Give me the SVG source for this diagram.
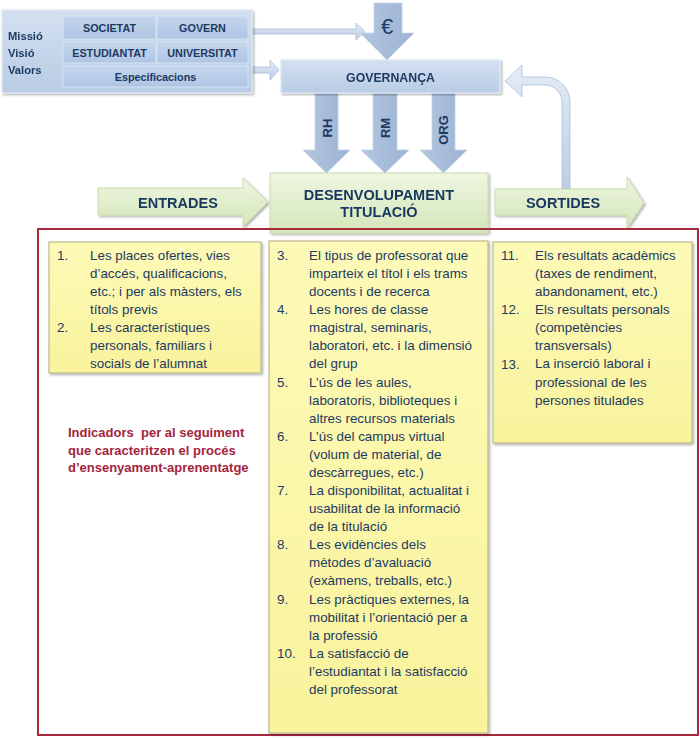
<svg xmlns="http://www.w3.org/2000/svg" width="700" height="738" viewBox="0 0 700 738">
<defs>
<linearGradient id="gBlue" x1="0" y1="0" x2="0" y2="1"><stop offset="0" stop-color="#d3e0f0"/><stop offset="1" stop-color="#b9cce5"/></linearGradient>
<linearGradient id="gCell" x1="0" y1="0" x2="0" y2="1"><stop offset="0" stop-color="#c4d6ec"/><stop offset="1" stop-color="#aec5e2"/></linearGradient>
<linearGradient id="gArrowV" x1="0" y1="0" x2="1" y2="0"><stop offset="0" stop-color="#b4c7e0"/><stop offset="0.5" stop-color="#a7bcd9"/><stop offset="1" stop-color="#9db3d3"/></linearGradient>
<linearGradient id="gArrowL" x1="0" y1="0" x2="0" y2="1"><stop offset="0" stop-color="#e4ecf6"/><stop offset="1" stop-color="#bccde4"/></linearGradient>
<linearGradient id="gGreen" x1="0" y1="0" x2="0" y2="1"><stop offset="0" stop-color="#eef6e1"/><stop offset="1" stop-color="#d4e6b8"/></linearGradient>
<linearGradient id="gYellow" x1="0" y1="0" x2="0" y2="1"><stop offset="0" stop-color="#fdfab8"/><stop offset="1" stop-color="#f9f39c"/></linearGradient>
<filter id="sh" x="-5%" y="-5%" width="112%" height="112%"><feDropShadow dx="1.5" dy="1.5" stdDeviation="1" flood-color="#000" flood-opacity="0.3"/></filter>
</defs>
<style>
.t{font-family:"Liberation Sans",Arial,sans-serif;fill:#1c3a63}
.b{font-weight:bold}
.body{font-size:13.4px}
.cell{font-size:10.8px;font-weight:bold;text-anchor:middle}
.ttl{font-size:14.5px;font-weight:bold;text-anchor:middle;fill:#17375e}
.red{font-family:"Liberation Sans",Arial,sans-serif;font-size:13px;font-weight:bold;fill:#a3243b}
.yel{fill:url(#gYellow);stroke:#bdb98c;stroke-width:1.2}
.grn{fill:url(#gGreen);stroke:#c9dcae;stroke-width:1}
.blu{fill:url(#gBlue);stroke:#dfe8f4;stroke-width:1.2}
.cellr{fill:url(#gCell);stroke:#d6e2f1;stroke-width:1}
.av{fill:url(#gArrowV);stroke:#c4d3e7;stroke-width:0.8}
.al{fill:url(#gArrowL);stroke:#a9bdd9;stroke-width:0.8}
</style>
<rect width="700" height="738" fill="#ffffff"/>

<g id="connectors">
<path class="al" d="M248,29 L356,29 L356,23 L365,31.5 L356,40 L356,34 L248,34 Z"/>
<path class="al" d="M248,67 L270,67 L270,60 L279,70 L270,80 L270,73 L248,73 Z"/>
<path class="av" d="M374,3 L402,3 L402,33 L414,33 L387,60 L360,33 L374,33 Z"/>
<path class="av" d="M315,93 L338,93 L338,150 L350,150 L326.5,173 L303,150 L315,150 Z"/>
<path class="av" d="M373,93 L397,93 L397,150 L409,150 L385,173 L361,150 L373,150 Z"/>
<path class="av" d="M432,93 L455,93 L455,150 L467,150 L443.5,173 L420,150 L432,150 Z"/>
<path class="al" d="M570,189 L570,102 A25,25 0 0 0 545,77 L522,77 L522,65 L505,81 L522,97 L522,85 L545,85 A17,17 0 0 1 562,102 L562,189 Z"/>
</g>

<g id="mission" filter="url(#sh)">
<rect class="blu" x="2" y="10" width="250" height="83"/>
<text class="t b" font-size="11.2" x="8" y="40">Missió</text>
<text class="t b" font-size="11.2" x="8" y="57">Visió</text>
<text class="t b" font-size="11.2" x="8" y="74">Valors</text>
</g>
<g id="societat"><rect class="cellr" x="63" y="16" width="93" height="23"/><text class="t cell" x="109.5" y="31.5">SOCIETAT</text></g>
<g id="govern"><rect class="cellr" x="157" y="16" width="91" height="23"/><text class="t cell" x="202.5" y="31.5">GOVERN</text></g>
<g id="estudiantat"><rect class="cellr" x="63" y="42" width="93" height="21"/><text class="t cell" x="109.5" y="56.5">ESTUDIANTAT</text></g>
<g id="universitat"><rect class="cellr" x="157" y="42" width="91" height="21"/><text class="t cell" x="202.5" y="56.5">UNIVERSITAT</text></g>
<g id="especificacions"><rect class="cellr" x="63" y="66" width="185" height="21"/><text class="t cell" x="155.5" y="80.5">Especificacions</text></g>

<g id="euro"><text class="t" x="387" y="34" font-size="22" text-anchor="middle" fill="#17375e">€</text></g>

<g id="governanca" filter="url(#sh)">
<rect class="blu" x="281" y="60" width="219" height="33"/>
<text class="t b" font-size="12.3" x="390.5" y="82" text-anchor="middle">GOVERNANÇA</text>
</g>

<g id="labels-rh-rm-org">
<text class="t b" font-size="13" transform="translate(331.5,128) rotate(-90)" text-anchor="middle">RH</text>
<text class="t b" font-size="13" transform="translate(389.5,128) rotate(-90)" text-anchor="middle">RM</text>
<text class="t b" font-size="13" transform="translate(448,130) rotate(-90)" text-anchor="middle">ORG</text>
</g>

<g id="entrades" filter="url(#sh)">
<path class="grn" d="M98,188 L243,188 L243,178 L268,202 L243,227 L243,215 L98,215 Z"/>
<text class="t ttl" x="178" y="208">ENTRADES</text>
</g>
<g id="sortides" filter="url(#sh)">
<path class="grn" d="M495,189 L627,189 L627,177 L644,203 L627,228 L627,215 L495,215 Z"/>
<text class="t ttl" x="563" y="208">SORTIDES</text>
</g>
<g id="desenvolupament" filter="url(#sh)">
<rect class="grn" x="270" y="173" width="218" height="60"/>
<text class="t ttl" x="379" y="200">DESENVOLUPAMENT</text>
<text class="t ttl" x="379" y="217">TITULACIÓ</text>
</g>

<g id="indicadors">
<rect x="38" y="229" width="660" height="506" fill="none" stroke="#a52a3c" stroke-width="2"/>
<text class="red" x="68" y="437" xml:space="preserve">Indicadors  per al seguiment</text>
<text class="red" x="68" y="454.5">que caracteritzen el procés</text>
<text class="red" x="68" y="472">d’ensenyament-aprenentatge</text>
</g>

<g id="entrades-list">
<rect class="yel" x="49" y="242" width="212" height="131" filter="url(#sh)"/>
<text class="t body"><tspan x="57" y="260">1.</tspan><tspan x="57" y="332.3">2.</tspan></text>
<text class="t body"><tspan x="90" y="260">Les places ofertes, vies</tspan><tspan x="90" dy="18.08">d’accés, qualificacions,</tspan><tspan x="90" dy="18.08">etc.; i per als màsters, els</tspan><tspan x="90" dy="18.08">títols previs</tspan><tspan x="90" dy="18.08">Les característiques</tspan><tspan x="90" dy="18.08">personals, familiars i</tspan><tspan x="90" dy="18.08">socials de l’alumnat</tspan></text>
</g>

<g id="desenvolupament-list">
<rect class="yel" x="269" y="241" width="219" height="492" filter="url(#sh)"/>
<text class="t body"><tspan x="277" y="260">3.</tspan><tspan x="277" y="314.2">4.</tspan><tspan x="277" y="386.6">5.</tspan><tspan x="277" y="440.8">6.</tspan><tspan x="277" y="495">7.</tspan><tspan x="277" y="549.3">8.</tspan><tspan x="277" y="603.5">9.</tspan><tspan x="277" y="657.8">10.</tspan></text>
<text class="t body"><tspan x="309" y="260">El tipus de professorat que</tspan><tspan x="309" dy="18.08">imparteix el títol i els trams</tspan><tspan x="309" dy="18.08">docents i de recerca</tspan><tspan x="309" dy="18.08">Les hores de classe</tspan><tspan x="309" dy="18.08">magistral, seminaris,</tspan><tspan x="309" dy="18.08">laboratori, etc. i la dimensió</tspan><tspan x="309" dy="18.08">del grup</tspan><tspan x="309" dy="18.08">L’ús de les aules,</tspan><tspan x="309" dy="18.08">laboratoris, biblioteques i</tspan><tspan x="309" dy="18.08">altres recursos materials</tspan><tspan x="309" dy="18.08">L’ús del campus virtual</tspan><tspan x="309" dy="18.08">(volum de material, de</tspan><tspan x="309" dy="18.08">descàrregues, etc.)</tspan><tspan x="309" dy="18.08">La disponibilitat, actualitat i</tspan><tspan x="309" dy="18.08">usabilitat de la informació</tspan><tspan x="309" dy="18.08">de la titulació</tspan><tspan x="309" dy="18.08">Les evidències dels</tspan><tspan x="309" dy="18.08">mètodes d’avaluació</tspan><tspan x="309" dy="18.08">(exàmens, treballs, etc.)</tspan><tspan x="309" dy="18.08">Les pràctiques externes, la</tspan><tspan x="309" dy="18.08">mobilitat i l’orientació per a</tspan><tspan x="309" dy="18.08">la professió</tspan><tspan x="309" dy="18.08">La satisfacció de</tspan><tspan x="309" dy="18.08">l’estudiantat i la satisfacció</tspan><tspan x="309" dy="18.08">del professorat</tspan></text>
</g>

<g id="sortides-list">
<rect class="yel" x="493" y="242" width="199" height="201" filter="url(#sh)"/>
<text class="t body"><tspan x="501" y="260">11.</tspan><tspan x="501" y="314.2">12.</tspan><tspan x="501" y="368.5">13.</tspan></text>
<text class="t body"><tspan x="535" y="260">Els resultats acadèmics</tspan><tspan x="535" dy="18.08">(taxes de rendiment,</tspan><tspan x="535" dy="18.08">abandonament, etc.)</tspan><tspan x="535" dy="18.08">Els resultats personals</tspan><tspan x="535" dy="18.08">(competències</tspan><tspan x="535" dy="18.08">transversals)</tspan><tspan x="535" dy="18.08">La inserció laboral i</tspan><tspan x="535" dy="18.08">professional de les</tspan><tspan x="535" dy="18.08">persones titulades</tspan></text>
</g>
</svg>
